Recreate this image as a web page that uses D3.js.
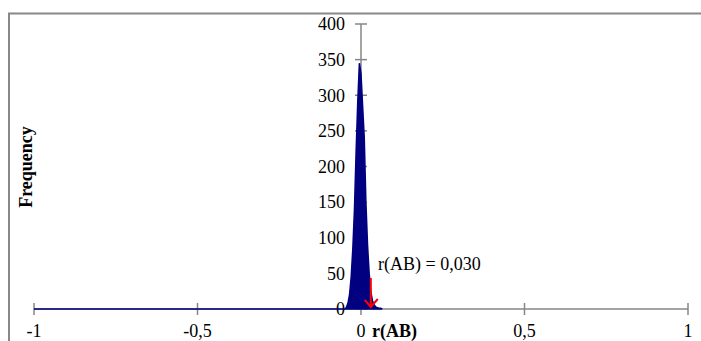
<!DOCTYPE html>
<html><head><meta charset="utf-8">
<script src="https://cdn.jsdelivr.net/npm/d3@7/dist/d3.min.js"></script>
<style>body{margin:0;background:#fff}svg{display:block}text{font-family:"Liberation Serif","Times New Roman",serif}</style>
</head><body><div id="chart"></div>
<script>
// Histogram bins (r(AB) value) and frequencies
const binX = [-1, -0.05, -0.045, -0.04, -0.035, -0.03, -0.025, -0.02, -0.015, -0.01, -0.005, 0, 0.005, 0.01, 0.015, 0.02, 0.025, 0.03, 0.035, 0.04, 0.045, 0.05, 0.055, 0.06, 0.065];
const freq = [0, 0, 2, 8, 20, 45, 85, 140, 220, 290, 345, 330, 285, 240, 150, 90, 50, 24, 12, 6, 3, 2, 1, 1, 0];
const xTicks = [-1, -0.5, 0, 0.5, 1];
const yTicks = [0, 50, 100, 150, 200, 250, 300, 350, 400];
const observed = 0.030;
const annotation = "r(AB) = 0,030";

const W = 701, H = 341, FS = 18;
const svg = d3.select("#chart").append("svg").attr("width", W).attr("height", H);

// chart border
svg.append("rect").attr("x", 9).attr("y", 13.5).attr("width", 720).attr("height", 360)
  .attr("fill", "none").attr("stroke", "#888").attr("stroke-width", 2);

const x = d3.scaleLinear().domain([-1, 1]).range([34, 688]);
const y = d3.scaleLinear().domain([0, 400]).range([309, 24]);
const fmt = d => String(d).replace(".", ",");

// x axis line + ticks
const gx = svg.append("g").attr("transform", `translate(0,${y(0)})`);
gx.append("line").attr("x1", x(-1)).attr("x2", x(1)).attr("stroke", "#868686").attr("stroke-width", 1.5);
gx.selectAll("line.t").data(xTicks).join("line").attr("class", "t")
  .attr("x1", d => x(d)).attr("x2", d => x(d)).attr("y1", -6).attr("y2", 6)
  .attr("stroke", "#868686").attr("stroke-width", 1.5);
gx.selectAll("text").data(xTicks).join("text")
  .attr("x", d => x(d)).attr("y", 28).attr("text-anchor", "middle")
  .attr("font-size", FS).attr("fill", "#000").text(fmt);

// y axis
const gy = svg.append("g").attr("transform", `translate(${x(0)},0)`);
gy.append("line").attr("y1", y(0)).attr("y2", y(400)).attr("stroke", "#868686").attr("stroke-width", 1.5);
gy.selectAll("line.t").data(yTicks).join("line").attr("class", "t")
  .attr("x1", -6).attr("x2", 6).attr("y1", d => y(d)).attr("y2", d => y(d))
  .attr("stroke", "#868686").attr("stroke-width", 1.5);
gy.selectAll("text").data(yTicks).join("text")
  .attr("x", -16).attr("y", d => y(d)).attr("dy", "0.35em").attr("text-anchor", "end")
  .attr("font-size", FS).attr("fill", "#000").text(d => d);

// area
const pts = binX.map((b, i) => [b, freq[i]]);
svg.append("path").datum(pts)
  .attr("d", d3.area().x(d => x(d[0])).y0(y(0)).y1(d => y(d[1])))
  .attr("fill", "#000080").attr("stroke", "#000080").attr("stroke-width", 1.5);

// axis titles
svg.append("text").attr("x", 372).attr("y", 337).attr("font-size", FS).attr("font-weight", "bold").text("r(AB)");
svg.append("text").attr("transform", "translate(32,167) rotate(-90)").attr("text-anchor", "middle")
  .attr("font-size", FS).attr("font-weight", "bold").text("Frequency");

// annotation
svg.append("text").attr("x", 378).attr("y", 270).attr("font-size", FS).text(annotation);
const ax = x(observed);
svg.append("line").attr("x1", ax).attr("x2", ax).attr("y1", 278).attr("y2", 307)
  .attr("stroke", "#ff0000").attr("stroke-width", 2);
svg.append("path").attr("d", `M${ax - 6},${300} L${ax},${307} L${ax + 7},${299}`)
  .attr("fill", "none").attr("stroke", "#ff0000").attr("stroke-width", 2);
</script></body></html>
